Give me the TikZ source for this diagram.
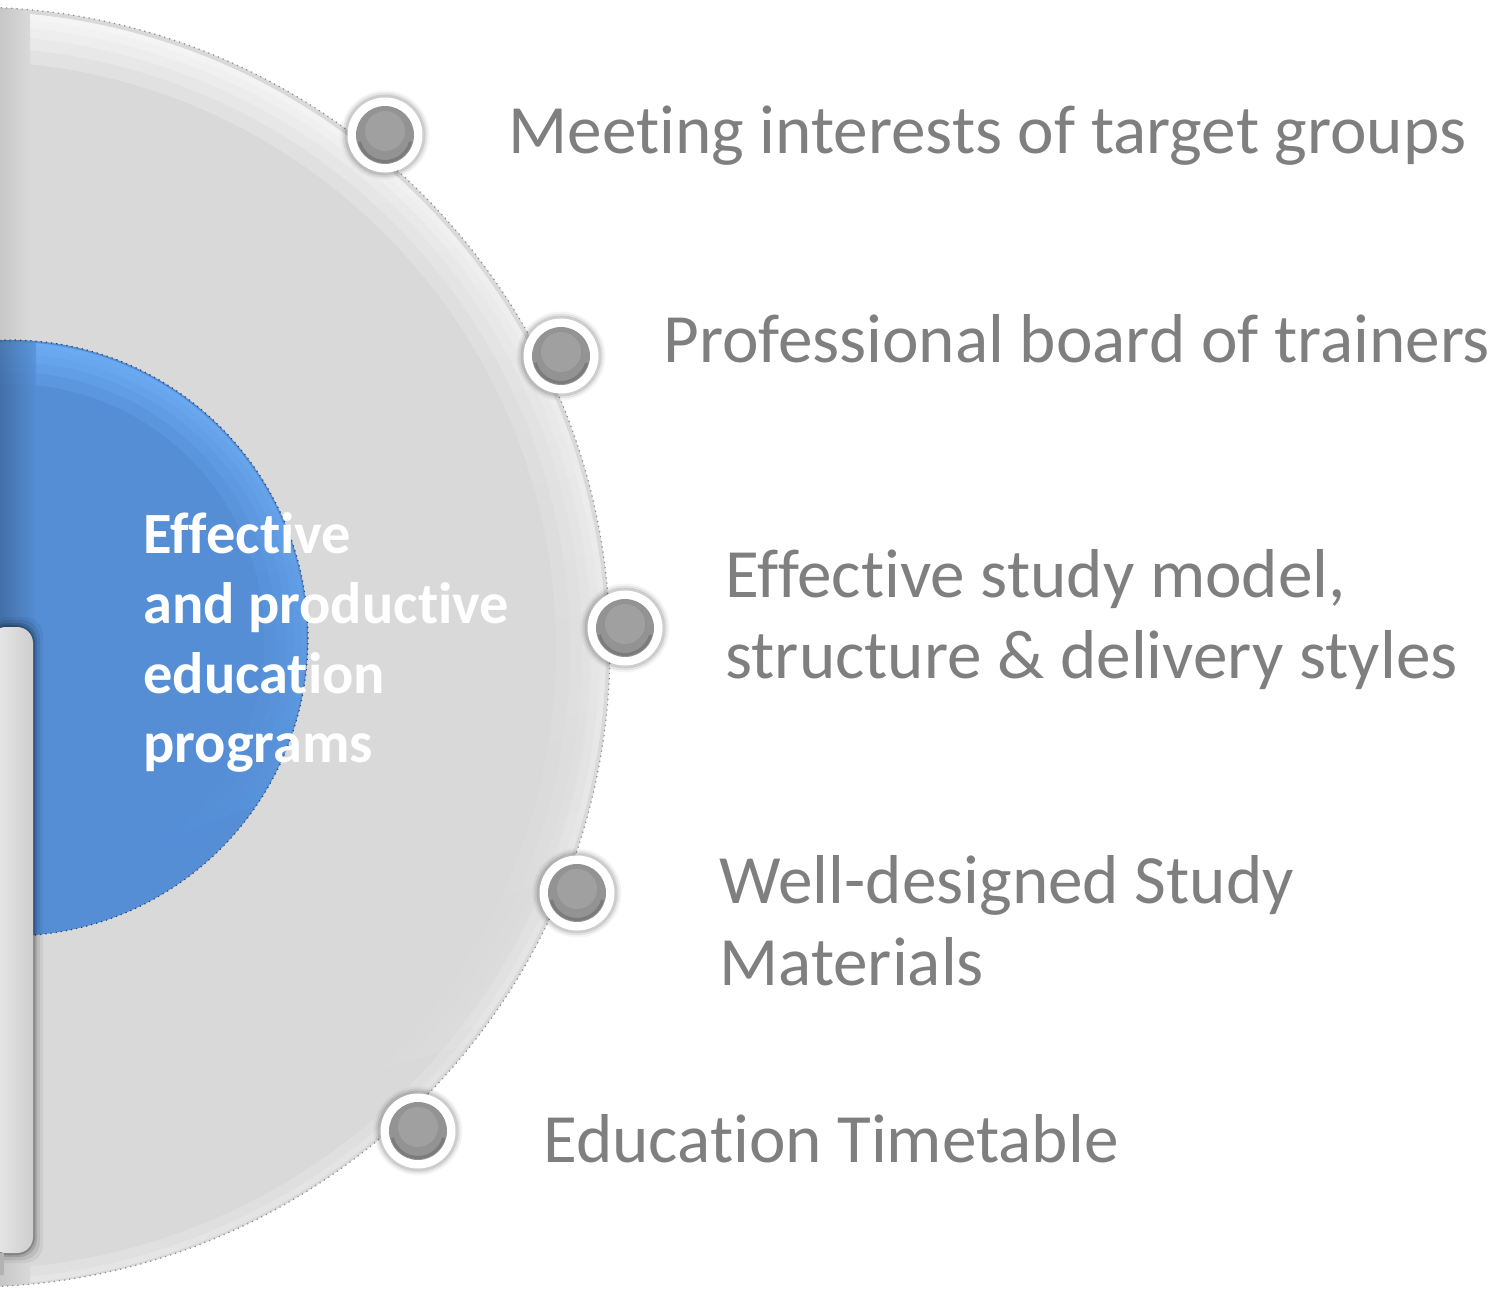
\documentclass[tikz,border=0pt]{standalone}
\usepackage{fontspec}
\setmainfont{Carlito}[Ligatures={NoCommon,NoRequired,NoContextual}, RawFeature=-calt]
\usetikzlibrary{fadings}
\newcommand{\nk}{\kern0pt}
\definecolor{biggray}{HTML}{D9D9D9}
\definecolor{txtgray}{HTML}{7F7F7F}
\definecolor{blueC}{HTML}{558ED5}
\definecolor{blueLight}{HTML}{72B2FA}
\definecolor{dotgray}{HTML}{939393}
\definecolor{dotrim}{HTML}{727272}
\tikzfading[name=topglow, top color=transparent!0, middle color=transparent!100, bottom color=transparent!100]
\tikzfading[name=botglow, bottom color=transparent!0, middle color=transparent!100, top color=transparent!100]
\tikzset{
  label/.style={anchor=base west, inner sep=0pt, text=txtgray, font=\fontsize{34.6}{41}\selectfont},
  centretext/.style={anchor=base west, inner sep=0pt, text=white, font=\fontsize{29.2}{35}\selectfont\bfseries},
  ring/.style={circle, fill=white, minimum size=37.5pt, inner sep=0pt},
  ball/.style={circle, fill=dotgray, minimum size=29pt, inner sep=0pt},
}
\begin{document}
\begin{tikzpicture}[x=0.5pt,y=-0.5pt]
\useasboundingbox (0,0) rectangle (1496,1290);
\clip (0,0) rectangle (1496,1290);
% big gray disc
\coordinate (bigc) at (-30,647);
\fill[biggray] (bigc) circle (640);
\begin{scope}
  \clip (bigc) circle (640);
  \foreach \w in {6,14,24,36,50}{
    \fill[white, opacity=0.26, even odd rule, path fading=topglow, fading transform={rotate=15}]
      (bigc) circle (638) (bigc) circle ({638-\w});
  }
  \foreach \w in {6,16}{
    \fill[white, opacity=0.2, even odd rule, path fading=botglow, fading transform={rotate=-15}]
      (bigc) circle (638) (bigc) circle ({638-\w});
  }
  \shade[left color=black!22, right color=biggray] (0,0) rectangle (30,1290);
\end{scope}
\draw[black!45, line width=0.6pt, dotted] (bigc) circle (640);
% blue disc
\coordinate (bluec) at (10,638);
\fill[blueC] (bluec) circle (298);
\begin{scope}
  \clip (bluec) circle (298);
  \foreach \w in {5,12,20,30,42}{
    \fill[blueLight, opacity=0.3, even odd rule, path fading=topglow, fading transform={rotate=20}]
      (bluec) circle (297) (bluec) circle ({297-\w});
  }
  \shade[left color=blueC!70!black, right color=blueC, opacity=0.7] (0,300) rectangle (36,960);
\end{scope}
\draw[blueC!50!black, line width=0.6pt, dotted] (bluec) circle (298);
% lower bar with shadow
\foreach \k/\o in {10/0.05,7/0.08,4/0.12,2/0.18}{
  \fill[black, opacity=\o, rounded corners=9pt] (-10,{627-\k}) rectangle ({33+\k},{1253+\k});
}
\shade[left color=black!8, right color=biggray!95!black, rounded corners=8pt] (-10,627) rectangle (33,1253);
\fill[black!30] (0,1253) rectangle (4,1275);
% dots
\foreach \n/\px/\py in {d1/385/135,d2/561/356,d3/625/628,d4/577/893,d5/418/1131}{
  \foreach \s/\o in {7/0.04,5/0.07,3/0.1}{
    \fill[black, opacity=\o] (\px,\py) circle ({37.5+\s});
  }
  \node[ring] (\n) at (\px,\py) {};
  \node[ball] (\n b) at (\px,\py) {};
  \draw[dotrim, line width=1.5pt, opacity=0.7] ([shift={(15:26.5)}]\px,\py) arc (15:165:26.5);
  \fill[white, opacity=0.12] (\px,{\py-4}) circle (20);
}
% labels
\node[label] (t1) at (508,153) {Meet\nk{}ing interests of target groups};
\node[label] (t2) at (663,362) {Professional board of trainers};
\node[label] (t3a) at (725,597) {Ef\nk{}fect\nk{}ive study model,};
\node[label] (t3b) at (725,678) {structure \& delivery styles};
\node[label] (t4a) at (719,903) {Well-designed Study};
\node[label] (t4b) at (719,985) {Materials};
\node[label] (t5) at (543,1162) {Educat\nk{}ion Timetable};
% centre text
\node[centretext] (c1) at (143,553) {Ef\nk{}fect\nk{}ive};
\node[centretext] (c2) at (143,623) {and product\nk{}ive};
\node[centretext] (c3) at (143,693) {educat\nk{}ion};
\node[centretext] (c4) at (143,762) {programs};
\end{tikzpicture}
\end{document}
